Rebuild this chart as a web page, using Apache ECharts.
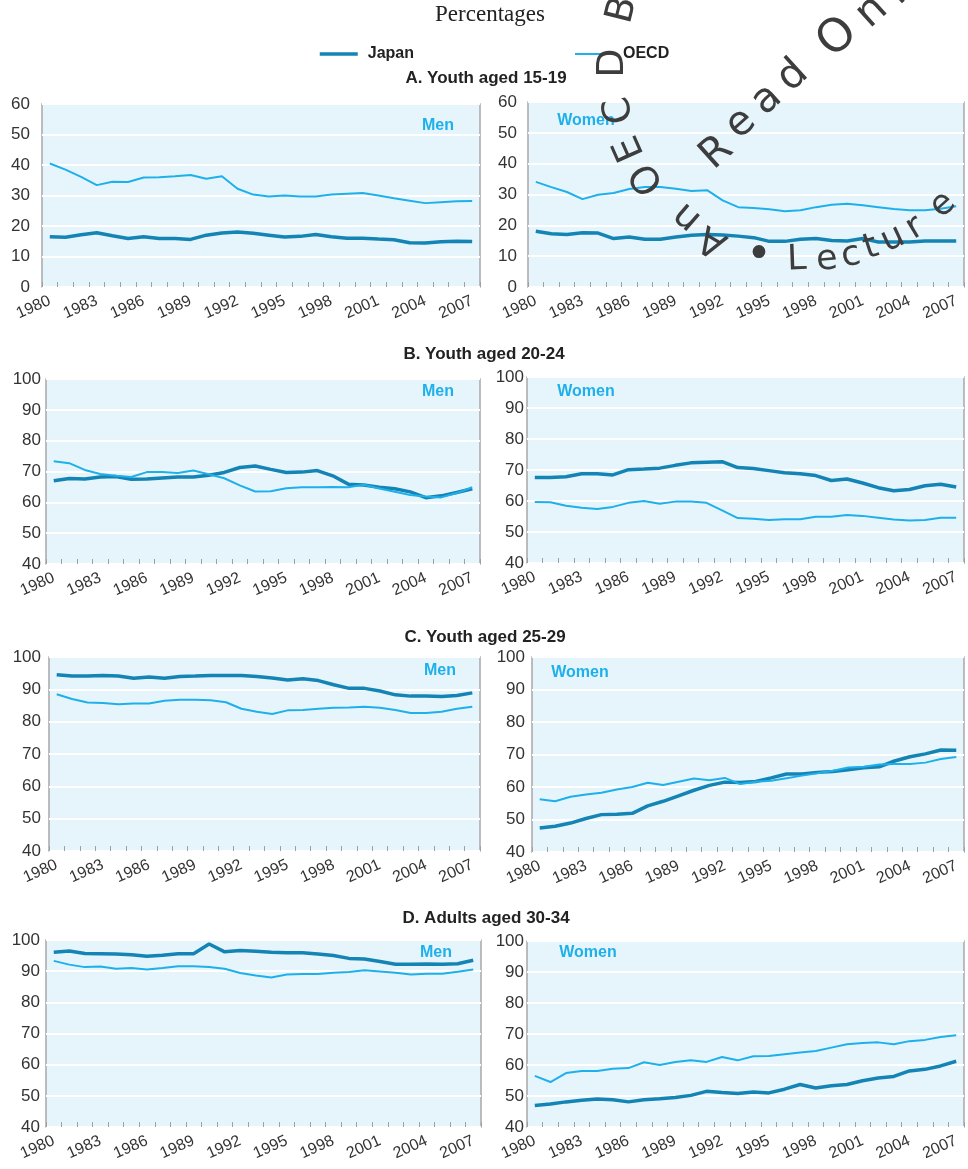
<!DOCTYPE html>
<html>
<head>
<meta charset="utf-8">
<script src="https://cdn.jsdelivr.net/npm/echarts@6/dist/echarts.min.js"></script>
<style>
  html, body { margin: 0; padding: 0; background: #fff; }
  #main { width: 968px; height: 1169px; }
</style>
</head>
<body>
<div id="main"></div>
<script>
// categories
const years = ['1980', '1981', '1982', '1983', '1984', '1985', '1986', '1987', '1988', '1989',
  '1990', '1991', '1992', '1993', '1994', '1995', '1996', '1997', '1998', '1999',
  '2000', '2001', '2002', '2003', '2004', '2005', '2006', '2007'];

// A. Youth aged 15-19
const aMenJapan = [16.5, 16.3, 17.1, 17.8, 16.8, 15.9, 16.5, 15.9, 15.9, 15.6, 17.0, 17.7, 18.0, 17.6, 17.0, 16.4, 16.6, 17.2, 16.5, 16.0, 16.0, 15.7, 15.5, 14.5, 14.4, 14.8, 15.0, 14.9];
const aMenOecd = [40.5, 38.5, 36.1, 33.4, 34.5, 34.4, 35.9, 36.0, 36.3, 36.7, 35.5, 36.3, 32.2, 30.3, 29.7, 30.0, 29.7, 29.7, 30.3, 30.6, 30.8, 30.0, 29.1, 28.3, 27.5, 27.8, 28.1, 28.2];
const aWomenJapan = [18.1, 17.3, 17.0, 17.6, 17.5, 15.7, 16.2, 15.5, 15.5, 16.2, 16.8, 17.0, 16.9, 16.5, 16.0, 14.8, 14.8, 15.5, 15.7, 15.1, 14.9, 15.7, 14.6, 14.6, 14.6, 14.9, 14.9, 14.9];
const aWomenOecd = [34.1, 32.4, 30.8, 28.5, 29.9, 30.5, 31.8, 32.4, 32.4, 31.9, 31.1, 31.4, 28.1, 25.9, 25.6, 25.2, 24.6, 24.9, 25.9, 26.7, 27.0, 26.5, 25.9, 25.3, 24.9, 24.9, 25.4, 26.2];

// B. Youth aged 20-24
const bMenJapan = [67.0, 67.7, 67.6, 68.2, 68.4, 67.5, 67.6, 67.9, 68.2, 68.2, 68.8, 69.7, 71.3, 71.8, 70.7, 69.7, 69.8, 70.3, 68.6, 65.9, 65.6, 64.9, 64.4, 63.4, 61.5, 62.1, 63.2, 64.4];
const bMenOecd = [73.3, 72.7, 70.5, 69.2, 68.6, 68.2, 69.8, 69.8, 69.5, 70.3, 69.1, 67.8, 65.5, 63.5, 63.6, 64.6, 64.9, 64.9, 65.0, 64.9, 65.7, 64.5, 63.4, 62.4, 61.9, 61.6, 63.0, 64.9];
const bWomenJapan = [67.6, 67.6, 67.8, 68.8, 68.8, 68.4, 70.1, 70.3, 70.6, 71.5, 72.3, 72.5, 72.7, 70.8, 70.5, 69.8, 69.1, 68.8, 68.2, 66.6, 67.1, 65.8, 64.3, 63.3, 63.7, 64.9, 65.4, 64.5];
const bWomenOecd = [59.7, 59.6, 58.5, 57.8, 57.4, 58.1, 59.4, 60.0, 59.1, 59.8, 59.8, 59.4, 57.0, 54.5, 54.3, 53.9, 54.1, 54.1, 54.9, 54.9, 55.5, 55.2, 54.6, 54.0, 53.7, 53.9, 54.6, 54.6];

// C. Youth aged 25-29
const cMenJapan = [94.5, 94.1, 94.1, 94.3, 94.1, 93.4, 93.8, 93.4, 94.0, 94.1, 94.3, 94.3, 94.3, 94.0, 93.5, 92.9, 93.3, 92.7, 91.4, 90.3, 90.3, 89.5, 88.3, 87.9, 87.9, 87.8, 88.1, 88.9];
const cMenOecd = [88.5, 87.0, 85.9, 85.8, 85.4, 85.6, 85.6, 86.5, 86.8, 86.8, 86.6, 86.0, 84.0, 83.1, 82.4, 83.5, 83.6, 84.0, 84.3, 84.4, 84.6, 84.3, 83.6, 82.7, 82.7, 83.1, 84.0, 84.6];
const cWomenJapan = [47.4, 47.9, 48.9, 50.3, 51.5, 51.6, 51.9, 54.2, 55.6, 57.3, 59.0, 60.5, 61.5, 61.4, 61.7, 62.8, 64.0, 64.0, 64.5, 64.8, 65.3, 65.9, 66.2, 68.0, 69.3, 70.2, 71.4, 71.3];
const cWomenOecd = [56.2, 55.6, 57.0, 57.7, 58.2, 59.2, 60.0, 61.3, 60.6, 61.6, 62.6, 62.1, 62.8, 60.9, 61.6, 61.9, 62.7, 63.5, 64.2, 65.0, 66.0, 66.2, 66.9, 67.1, 67.1, 67.5, 68.6, 69.2];

// D. Adults aged 30-34
const dMenJapan = [96.1, 96.5, 95.7, 95.6, 95.5, 95.3, 94.8, 95.1, 95.6, 95.6, 98.7, 96.2, 96.6, 96.4, 96.1, 95.9, 95.9, 95.5, 95.0, 94.1, 93.9, 93.1, 92.2, 92.2, 92.3, 92.2, 92.4, 93.5];
const dMenOecd = [93.3, 92.1, 91.3, 91.5, 90.8, 91.0, 90.5, 91.0, 91.6, 91.6, 91.3, 90.8, 89.4, 88.6, 88.0, 88.9, 89.1, 89.1, 89.5, 89.7, 90.3, 89.9, 89.5, 88.9, 89.2, 89.2, 89.8, 90.5];
const dWomenJapan = [46.9, 47.4, 48.1, 48.6, 49.0, 48.8, 48.1, 48.8, 49.1, 49.5, 50.2, 51.5, 51.1, 50.8, 51.3, 51.0, 52.2, 53.7, 52.6, 53.3, 53.7, 54.9, 55.8, 56.3, 58.1, 58.6, 59.7, 61.2];
const dWomenOecd = [56.5, 54.5, 57.4, 58.1, 58.1, 58.8, 59.0, 60.9, 60.0, 61.0, 61.5, 61.0, 62.6, 61.5, 62.8, 62.9, 63.5, 64.0, 64.5, 65.6, 66.7, 67.1, 67.3, 66.7, 67.7, 68.1, 69.0, 69.6];

const sectionTitles = ['A. Youth aged 15-19', 'B. Youth aged 20-24', 'C. Youth aged 25-29', 'D. Adults aged 30-34'];

const JAPAN_COLOR = '#1484b5';
const OECD_COLOR = '#1eb0ea';
const FONT = '"Liberation Sans", Arial, sans-serif';

// layout of the 8 panels: [left, top, width, height]
const panels = [
  { box: [42, 104, 438, 183], min: 0, max: 60, lm: 12, japan: aMenJapan, oecd: aMenOecd, tag: 'Men', tagPos: [438, 126] },
  { box: [528, 102, 436, 185], min: 0, max: 60, lm: 11, japan: aWomenJapan, oecd: aWomenOecd, tag: 'Women', tagPos: [586, 121] },
  { box: [46, 379, 434, 185], min: 40, max: 100, lm: 5, japan: bMenJapan, oecd: bMenOecd, tag: 'Men', tagPos: [438, 392] },
  { box: [527, 377, 437, 186], min: 40, max: 100, lm: 3, japan: bWomenJapan, oecd: bWomenOecd, tag: 'Women', tagPos: [586, 392] },
  { box: [49, 657, 431, 194], min: 40, max: 100, lm: 8, japan: cMenJapan, oecd: cMenOecd, tag: 'Men', tagPos: [440, 671] },
  { box: [532, 657, 432, 195], min: 40, max: 100, lm: 7, japan: cWomenJapan, oecd: cWomenOecd, tag: 'Women', tagPos: [580, 673] },
  { box: [46, 940, 435, 187], min: 40, max: 100, lm: 6, japan: dMenJapan, oecd: dMenOecd, tag: 'Men', tagPos: [436, 953] },
  { box: [527, 941, 437, 186], min: 40, max: 100, lm: 3, japan: dWomenJapan, oecd: dWomenOecd, tag: 'Women', tagPos: [588, 953] }
];
const sectionTitlePos = [[486, 78], [484, 354], [485, 637], [486, 918]];

// watermark letters: [char, x, y, rotation deg, font size]
const stamp = [
  ['B', 623, 10, 76, 38], ['D', 613, 63, 90, 38], ['C', 620, 110, 103, 38], ['E', 630, 148, 114, 38],
  ['O', 648, 178, 124, 38], ['n', 687, 217, 139, 38], ['A', 713, 240, 149, 38],
  ['R', 717, 153, 42, 41], ['e', 741, 124, 42, 41], ['a', 767, 100, 42, 41], ['d', 793, 76, 42, 41],
  ['O', 838, 38, 42, 46], ['n', 872, 12, 42, 42], ['l', 896, -6, 42, 42], ['y', 918, -22, 42, 42],
  ['\u2022', 759, 257, 0, 44], ['L', 797, 260, 2, 35], ['e', 827, 260, 5, 35], ['c', 851, 256, 11, 35],
  ['t', 871, 248, 18, 35], ['u', 893, 239, 25, 35], ['r', 915, 228, 31, 35], ['e', 943, 205, 42, 35]
];

const chart = echarts.init(document.getElementById('main'), null, { renderer: 'canvas' });

const grids = [], xAxes = [], yAxes = [], series = [], graphics = [];

panels.forEach((p, i) => {
  grids.push({
    left: p.box[0], top: p.box[1], width: p.box[2], height: p.box[3],
    show: true, backgroundColor: '#e6f5fc', borderColor: '#a8a8a8', borderWidth: 1.5
  });
  xAxes.push({
    gridIndex: i, type: 'category', data: years, boundaryGap: true,
    axisLine: { show: false },
    axisTick: { show: true, inside: true, length: 5, interval: 0, lineStyle: { color: '#a0a0a0', width: 1 } },
    axisLabel: { interval: 2, rotate: 24, margin: 13, fontSize: 16, color: '#333', fontFamily: FONT },
    splitLine: { show: false }
  });
  yAxes.push({
    gridIndex: i, type: 'value', min: p.min, max: p.max, interval: 10,
    axisLine: { show: false }, axisTick: { show: false },
    axisLabel: { margin: p.lm, fontSize: 17, color: '#333', fontFamily: FONT },
    splitLine: { show: true, lineStyle: { color: '#ffffff', width: 2 } }
  });
  series.push({
    name: 'Japan', type: 'line', xAxisIndex: i, yAxisIndex: i, data: p.japan,
    symbol: 'none', smooth: false,
    lineStyle: { color: JAPAN_COLOR, width: 3.5 }, itemStyle: { color: JAPAN_COLOR }
  });
  series.push({
    name: 'OECD', type: 'line', xAxisIndex: i, yAxisIndex: i, data: p.oecd,
    symbol: 'none', smooth: false,
    lineStyle: { color: OECD_COLOR, width: 2 }, itemStyle: { color: OECD_COLOR }
  });
  graphics.push({
    type: 'text', x: p.tagPos[0], y: p.tagPos[1], z: 50,
    style: {
      text: p.tag, fill: OECD_COLOR, font: 'bold 16px ' + FONT,
      textAlign: 'center', textVerticalAlign: 'middle', align: 'center', verticalAlign: 'middle'
    }
  });
});

sectionTitles.forEach((t, i) => {
  graphics.push({
    type: 'text', x: sectionTitlePos[i][0], y: sectionTitlePos[i][1], z: 50,
    style: {
      text: t, fill: '#222', font: 'bold 17px ' + FONT,
      textAlign: 'center', textVerticalAlign: 'middle', align: 'center', verticalAlign: 'middle'
    }
  });
});

graphics.push({
  type: 'text', x: 490, y: 15, z: 50,
  style: {
    text: 'Percentages', fill: '#222', font: '23px "Liberation Serif", "Times New Roman", serif',
    textAlign: 'center', textVerticalAlign: 'middle', align: 'center', verticalAlign: 'middle'
  }
});

stamp.forEach(s => {
  graphics.push({
    type: 'text', x: s[1], y: s[2], rotation: s[3] * Math.PI / 180, z: 100,
    style: {
      text: s[0], fill: '#3d3d3d', font: s[4] + 'px "DejaVu Sans", sans-serif',
      textAlign: 'center', textVerticalAlign: 'middle', align: 'center', verticalAlign: 'middle'
    }
  });
});

const option = {
  animation: false,
  backgroundColor: '#ffffff',
  legend: {
    left: 318, top: 46, padding: 0, itemWidth: 38, itemHeight: 12, itemGap: 160,
    data: ['Japan', 'OECD'],
    itemStyle: { opacity: 0 },
    lineStyle: { width: 'inherit' },
    textStyle: { fontSize: 16, fontWeight: 'bold', color: '#222', fontFamily: FONT, padding: [0, 0, 0, 5] }
  },
  grid: grids,
  xAxis: xAxes,
  yAxis: yAxes,
  series: series,
  graphic: { elements: graphics }
};

chart.setOption(option);
</script>
</body>
</html>
